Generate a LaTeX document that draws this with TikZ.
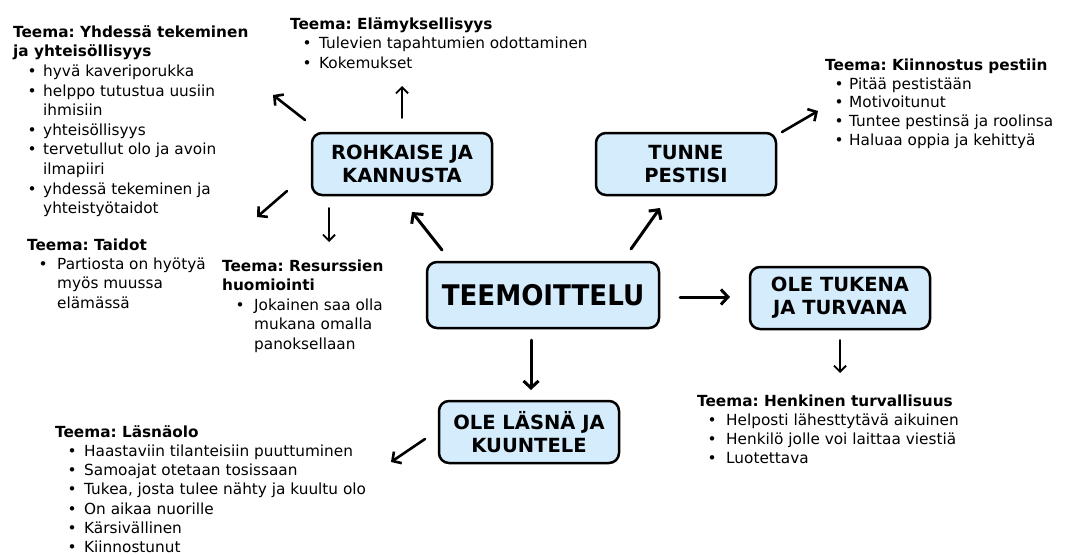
\documentclass[tikz,border=0pt]{standalone}
\usepackage{fontspec}
\setmainfont{DejaVu Sans}
\newfontfamily\condf{DejaVu Sans}[FakeStretch=0.92]
\usetikzlibrary{arrows.meta}
\definecolor{boxblue}{RGB}{212,236,252}
\newcommand\bi[3]{\hspace*{\dimexpr#1-4.5pt\relax}\rlap{•}\hspace*{\dimexpr#2-#1+4.5pt\relax}#3}
\newcommand\ct[2]{\hspace*{#1}#2}
\newcommand\fst{\rule{0pt}{13pt}}
\tikzset{
  box/.style={draw=black, line width=2.5pt, fill=boxblue, rounded corners=10pt,
    minimum width=180pt, minimum height=62pt, align=center, inner sep=0pt,
    font=\bfseries\fontsize{19.5}{23}\selectfont},
  blk/.style={anchor=north west, inner sep=0pt, align=left,
    font=\frenchspacing\fontsize{15.3}{#1}\selectfont},
  blk/.default=19.3,
  arr/.style={line width=2.6pt, line cap=round, -{Straight Barb[length=6.5pt,width=14pt]}},
  tarr/.style={line width=3pt, line cap=round, -{Straight Barb[length=7pt,width=15pt]}},
  sarr/.style={line width=1.9pt, line cap=round, -{Straight Barb[length=6pt,width=12pt]}},
}
\begin{document}
\frenchspacing
\begin{tikzpicture}[x=1pt,y=-1pt]
\useasboundingbox (0,0) rectangle (1065,554);

% boxes
\node[box] (rohk) at (402,164) {ROHKAISE JA\\KANNUSTA};
\node[box] (tunne) at (686,164) {TUNNE\\PESTISI};
\node[box, minimum width=232pt, minimum height=66pt,
  font=\condf\bfseries\fontsize{28.4}{32}\selectfont] (teem) at (543,295) {TEEMOITTELU};
\node[box] (tuki) at (840,298) {OLE TUKENA\\JA TURVANA};
\node[box] (lasna) at (529,432) {OLE LÄSNÄ JA\\KUUNTELE};

% text blocks
\node[blk=19.6] (yhd) at (13,24) {\fst\textbf{Teema: Yhdessä tekeminen}\\
  \textbf{ja yhteisöllisyys}\\
  \bi{19pt}{30pt}{hyvä kaveriporukka}\\
  \bi{19pt}{30pt}{helppo tutustua uusiin}\\
  \ct{30pt}{ihmisiin}\\
  \bi{19pt}{30pt}{yhteisöllisyys}\\
  \bi{19pt}{30pt}{tervetullut olo ja avoin}\\
  \ct{30pt}{ilmapiiri}\\
  \bi{19pt}{30pt}{yhdessä tekeminen ja}\\
  \ct{30pt}{yhteistyötaidot}};

\node[blk=19.5] (elam) at (290,16) {\fst\textbf{Teema: Elämyksellisyys}\\
  \bi{17pt}{29pt}{Tulevien tapahtumien odottaminen}\\
  \bi{17pt}{29pt}{Kokemukset}};

\node[blk=18.8] (kiin) at (825,57) {\fst\textbf{Teema: Kiinnostus pestiin}\\
  \bi{14pt}{24pt}{Pitää pestistään}\\
  \bi{14pt}{24pt}{Motivoitunut}\\
  \bi{14pt}{24pt}{Tuntee pestinsä ja roolinsa}\\
  \bi{14pt}{24pt}{Haluaa oppia ja kehittyä}};

\node[blk=19.3] (taid) at (27,237) {\fst\textbf{Teema: Taidot}\\
  \bi{16pt}{30pt}{Partiosta on hyötyä}\\
  \ct{30pt}{myös muussa}\\
  \ct{30pt}{elämässä}};

\node[blk=19.5] (resu) at (222,258) {\fst\textbf{Teema: Resurssien}\\
  \textbf{huomiointi}\\
  \bi{18pt}{32pt}{Jokainen saa olla}\\
  \ct{32pt}{mukana omalla}\\
  \ct{32pt}{panoksellaan}};

\node[blk=19.2] (lasno) at (55,424) {\fst\textbf{Teema: Läsnäolo}\\
  \bi{17pt}{29pt}{Haastaviin tilanteisiin puuttuminen}\\
  \bi{17pt}{29pt}{Samoajat otetaan tosissaan}\\
  \bi{17pt}{29pt}{Tukea, josta tulee nähty ja kuultu olo}\\
  \bi{17pt}{29pt}{On aikaa nuorille}\\
  \bi{17pt}{29pt}{Kärsivällinen}\\
  \bi{17pt}{29pt}{Kiinnostunut}};

\node[blk=19] (henk) at (697,393) {\fst\textbf{Teema: Henkinen turvallisuus}\\
  \bi{15pt}{29pt}{Helposti lähesttytävä aikuinen}\\
  \bi{15pt}{29pt}{Henkilö jolle voi laittaa viestiä}\\
  \bi{15pt}{29pt}{Luotettava}};

% arrow end points
\coordinate (a1s) at (305,120); \coordinate (a1e) at (273,95);
\coordinate (a2s) at (402,118); \coordinate (a2e) at (402,86);
\coordinate (a3s) at (287,191); \coordinate (a3e) at (257,217);
\coordinate (a4s) at (329,208); \coordinate (a4e) at (329,242);
\coordinate (a5s) at (442,250); \coordinate (a5e) at (412,212);
\coordinate (a6s) at (631,249); \coordinate (a6e) at (660,208);
\coordinate (a7s) at (782,132); \coordinate (a7e) at (818,111);
\coordinate (a8s) at (680,297); \coordinate (a8e) at (730,297);
\coordinate (a9s) at (840,340); \coordinate (a9e) at (840,373);
\coordinate (a10s) at (531,340); \coordinate (a10e) at (531,390);
\coordinate (a11s) at (425,439); \coordinate (a11e) at (391,462);

\draw[arr] (a1s) -- (a1e);
\draw[sarr] (a2s) -- (a2e);
\draw[arr] (a3s) -- (a3e);
\draw[sarr] (a4s) -- (a4e);
\draw[tarr] (a5s) -- (a5e);
\draw[tarr] (a6s) -- (a6e);
\draw[arr] (a7s) -- (a7e);
\draw[tarr] (a8s) -- (a8e);
\draw[sarr] (a9s) -- (a9e);
\draw[tarr] (a10s) -- (a10e);
\draw[arr] (a11s) -- (a11e);
\end{tikzpicture}
\end{document}
